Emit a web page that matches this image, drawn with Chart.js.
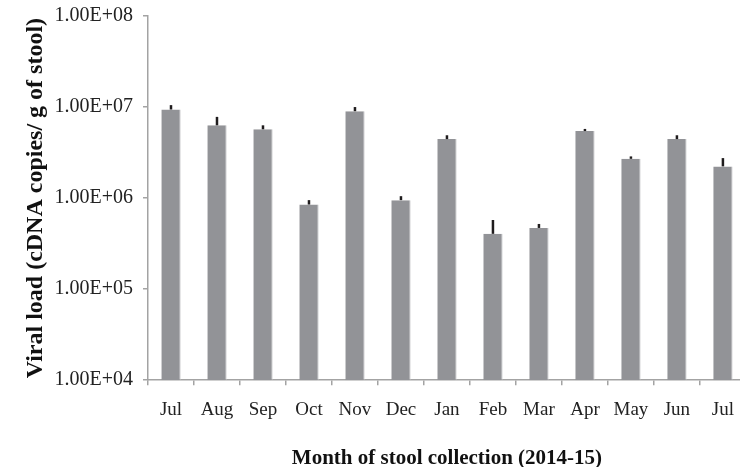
<!DOCTYPE html>
<html>
<head>
<meta charset="utf-8">
<script src="https://cdn.jsdelivr.net/npm/chart.js@4/dist/chart.umd.min.js"></script>
<style>
  html, body { margin: 0; padding: 0; background: #fff; overflow: hidden; }
  #wrap { width: 747px; height: 467px; }
</style>
</head>
<body>
<div id="wrap"><canvas id="c"></canvas></div>
<script>
// Monthly viral load (cDNA copies per g of stool), mean and upper error bound
const months = ['Jul', 'Aug', 'Sep', 'Oct', 'Nov', 'Dec', 'Jan', 'Feb', 'Mar', 'Apr', 'May', 'Jun', 'Jul'];
const viralLoad = [9.4e6, 6.3e6, 5.7e6, 8.5e5, 9.0e6, 9.5e5, 4.45e6, 4.05e5, 4.7e5, 5.45e6, 2.7e6, 4.45e6, 2.23e6];
const upperError = [1.05e7, 7.8e6, 6.3e6, 9.5e5, 1.0e7, 1.05e6, 4.9e6, 5.75e5, 5.2e5, 5.75e6, 2.87e6, 4.9e6, 2.75e6];
const yTicks = [1e4, 1e5, 1e6, 1e7, 1e8];

const serif = "'Liberation Serif', 'Times New Roman', serif";
const axisGray = '#a3a3a3';

function sci(v) {
  const exp = Math.round(Math.log10(v));
  return '1.00E+' + String(exp).padStart(2, '0');
}

// Upward-only error whiskers drawn through the chart's own scales
const errorBars = {
  id: 'errorBars',
  afterDatasetsDraw(chart) {
    const { ctx, scales: { x, y } } = chart;
    ctx.save();
    ctx.strokeStyle = '#1f1c1d';
    ctx.lineWidth = 2.5;
    upperError.forEach((hi, i) => {
      const px = x.getPixelForValue(i);
      ctx.beginPath();
      ctx.moveTo(px, y.getPixelForValue(viralLoad[i]));
      ctx.lineTo(px, y.getPixelForValue(hi));
      ctx.stroke();
    });
    ctx.restore();
  }
};

new Chart(document.getElementById('c'), {
  type: 'bar',
  data: {
    labels: months,
    datasets: [{
      data: viralLoad,
      backgroundColor: '#929397',
      borderColor: '#c4c5c7',
      borderWidth: { left: 0, right: 1, top: 0, bottom: 0 },
      barPercentage: 0.7,
      categoryPercentage: 0.6
    }]
  },
  options: {
    responsive: true,
    maintainAspectRatio: false,
    animation: false,
    layout: { padding: { top: 16, right: 0, bottom: -2, left: 21 } },
    plugins: { legend: { display: false }, tooltip: { enabled: false } },
    scales: {
      x: {
        grid: { display: true, drawOnChartArea: false, color: axisGray, lineWidth: 1.5, tickLength: 5, offset: true },
        border: { color: axisGray, width: 1.5 },
        ticks: { color: '#222', font: { family: serif, size: 19 }, padding: 13, maxRotation: 0, autoSkip: false },
        title: { display: true, text: 'Month of stool collection (2014-15)', color: '#111',
                 font: { family: serif, size: 21, weight: 'bold', lineHeight: 1 }, padding: { top: 14, bottom: 0 } }
      },
      y: {
        type: 'logarithmic',
        min: 1e4,
        max: 1e8,
        afterBuildTicks(scale) { scale.ticks = yTicks.map(v => ({ value: v })); },
        afterFit(scale) { scale.width = 127; },
        grid: { display: true, drawOnChartArea: false, color: axisGray, lineWidth: 1.5, tickLength: 5 },
        border: { color: axisGray, width: 1.5 },
        ticks: { color: '#222', font: { family: serif, size: 20, lineHeight: 0.6 }, padding: 10, callback: v => sci(v) },
        title: { display: true, text: 'Viral load (cDNA copies/ g of stool)', color: '#111',
                 font: { family: serif, size: 24, weight: 'bold' }, padding: { top: 0, bottom: 4 } }
      }
    }
  },
  plugins: [errorBars]
});
</script>
</body>
</html>
